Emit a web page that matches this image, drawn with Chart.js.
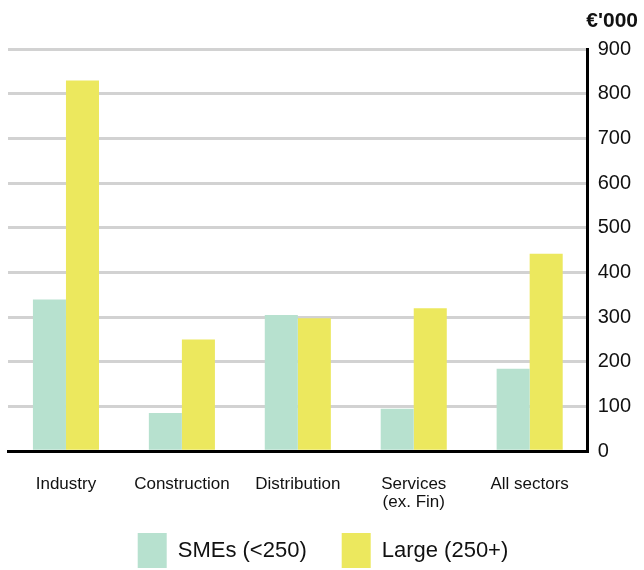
<!DOCTYPE html>
<html>
<head>
<meta charset="utf-8">
<script src="https://cdn.jsdelivr.net/npm/chart.js@4/dist/chart.umd.min.js"></script>
<style>
  html, body { margin: 0; padding: 0; background: #fff; overflow: hidden; }
  #wrap { width: 644px; height: 607px; position: relative; }
</style>
</head>
<body>
<div id="wrap"><canvas id="myChart"></canvas></div>
<script>
// average value per enterprise, by sector and size band
const categories = ['Industry', 'Construction', 'Distribution', ['Services', '(ex. Fin)'], 'All sectors'];
const seriesNames = ['SMEs (<250)', 'Large (250+)'];
const smeValues = [340, 86, 305, 95, 185];
const largeValues = [830, 250, 298, 320, 442];
const yMin = 0, yMax = 900, yStep = 100;

let colorHex = ['#b7e1cf', '#ece85e'];
const fontFamily = '"Liberation Sans", Arial, sans-serif';

// pull the legend up so it sits closer to the category labels
const legendLift = {
  id: 'legendLift',
  afterLayout: function (chart) {
    const lg = chart.legend;
    lg.top -= 29;
    lg.bottom -= 29;
  }
};

var ctx = document.getElementById('myChart').getContext('2d');
const myChart = new Chart(ctx, {
  type: 'bar',
  data: {
    labels: categories,
    datasets: [
      {label: seriesNames[0], data: smeValues, backgroundColor: colorHex[0]},
      {label: seriesNames[1], data: largeValues, backgroundColor: colorHex[1]}
    ]
  },
  plugins: [legendLift],
  options: {
    responsive: true,
    maintainAspectRatio: false,
    animation: false,
    categoryPercentage: 0.57,
    barPercentage: 1.0,
    layout: {padding: {left: 8, right: 6, top: 0, bottom: 0}},
    scales: {
      x: {
        offset: true,
        grid: {display: false},
        border: {display: true, color: '#000', width: 3},
        ticks: {
          color: '#111',
          padding: 16,
          maxRotation: 0,
          autoSkip: false,
          font: {family: fontFamily, size: 17, lineHeight: 1.05}
        }
      },
      y: {
        position: 'right',
        min: yMin,
        max: yMax,
        grid: {color: '#d2d2d2', lineWidth: 3, drawTicks: false},
        border: {display: true, color: '#000', width: 3},
        ticks: {
          stepSize: yStep,
          color: '#111',
          padding: 10,
          font: {family: fontFamily, size: 20}
        },
        afterFit: function (scale) { scale.width -= 3; }
      }
    },
    plugins: {
      title: {
        display: true,
        text: "€'000",
        align: 'end',
        color: '#111',
        padding: {top: 9, bottom: 15},
        font: {family: fontFamily, size: 21, weight: 'bold'}
      },
      legend: {
        position: 'bottom',
        labels: {
          boxWidth: 29,
          boxHeight: 35,
          padding: 35,
          color: '#111',
          font: {family: fontFamily, size: 22}
        }
      },
      tooltip: {enabled: false}
    }
  }
});
</script>
</body>
</html>
